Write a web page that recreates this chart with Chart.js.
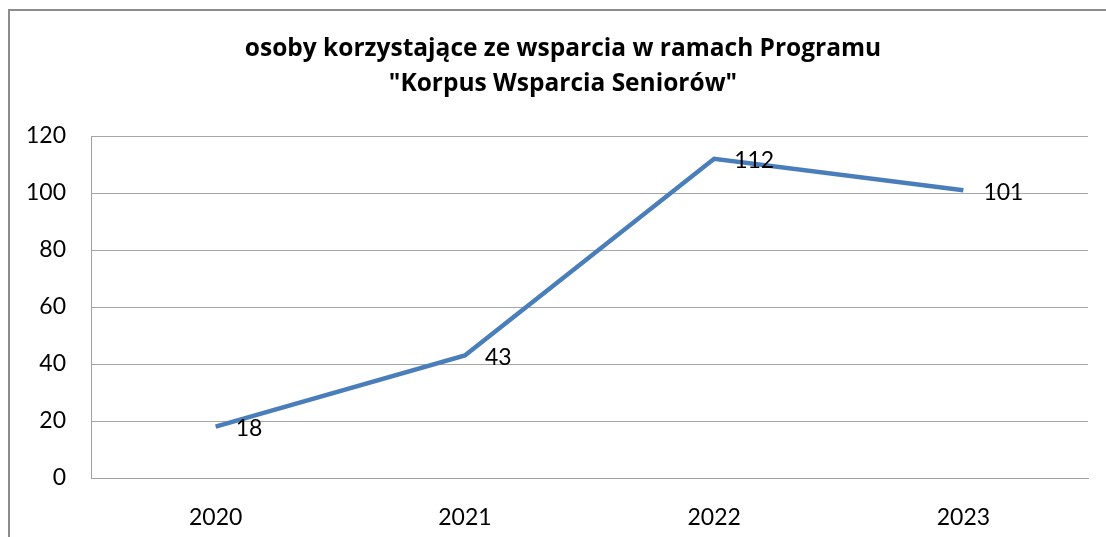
<!DOCTYPE html>
<html>
<head>
<meta charset="utf-8">
<script src="https://cdn.jsdelivr.net/npm/chart.js@4.4.1/dist/chart.umd.min.js"></script>
<style>
html,body{margin:0;padding:0;background:#fff;overflow:hidden;}
#frame{position:absolute;left:8px;top:9px;width:1110px;height:540px;border:2px solid #8c8c8c;box-sizing:border-box;}
#wrap{position:absolute;left:0;top:0;width:1106px;height:537px;}
</style>
</head>
<body>
<div id="frame"></div>
<div id="wrap"><canvas id="c" width="1106" height="537"></canvas></div>
<script>
const categories = ['2020', '2021', '2022', '2023'];
const values = [18, 43, 112, 101];
const yTicks = [0, 20, 40, 60, 80, 100, 120];
const titleLines = ['osoby korzystające ze wsparcia w ramach Programu', '"Korpus Wsparcia Seniorów"'];

const FONT = 'Lato, "Open Sans", sans-serif';
const TITLE_FONT = '"Open Sans", Lato, sans-serif';

const valueLabels = {
  id: 'valueLabels',
  afterDatasetsDraw(chart) {
    const ctx = chart.ctx;
    const meta = chart.getDatasetMeta(0);
    ctx.save();
    ctx.font = '23px ' + FONT;
    ctx.fillStyle = '#000';
    ctx.textAlign = 'left';
    ctx.textBaseline = 'middle';
    meta.data.forEach((pt, i) => {
      ctx.fillText(String(chart.data.datasets[0].data[i]), pt.x + 20, pt.y + 2);
    });
    ctx.restore();
  }
};

const chartTitle = {
  id: 'chartTitle',
  afterDraw(chart) {
    const ctx = chart.ctx;
    ctx.save();
    ctx.font = 'bold 24.5px ' + TITLE_FONT;
    ctx.fillStyle = '#000';
    ctx.textAlign = 'center';
    ctx.textBaseline = 'middle';
    const cx = chart.width / 2 + 10;
    titleLines.forEach((t, i) => ctx.fillText(t, cx, 49 + i * 35));
    ctx.restore();
  }
};

new Chart(document.getElementById('c'), {
  type: 'line',
  data: {
    labels: categories,
    datasets: [{
      data: values,
      borderColor: '#4a7ebb',
      borderWidth: 4.5,
      pointRadius: 0,
      tension: 0,
      fill: false
    }]
  },
  options: {
    responsive: false,
    animation: false,
    layout: { padding: { left: 0, right: 18, top: 136, bottom: 0 } },
    plugins: {
      legend: { display: false },
      tooltip: { enabled: false },
      title: { display: false }
    },
    scales: {
      x: {
        offset: true,
        grid: { display: false, drawTicks: false },
        border: { display: true, color: '#a0a0a0', width: 1 },
        ticks: { color: '#000', font: { family: FONT, size: 23 }, padding: 26, maxRotation: 0 },
        afterFit(s) { s.height = 59; }
      },
      y: {
        min: 0, max: 120,
        afterBuildTicks(s) { s.ticks = yTicks.map(v => ({ value: v })); },
        grid: { color: '#a6a6a6', lineWidth: 1, drawTicks: false },
        border: { display: true, color: '#a0a0a0', width: 1 },
        ticks: { color: '#000', font: { family: FONT, size: 23 }, padding: 25 },
        afterFit(s) { s.width = 91; }
      }
    }
  },
  plugins: [valueLabels, chartTitle]
});
</script>
</body>
</html>
